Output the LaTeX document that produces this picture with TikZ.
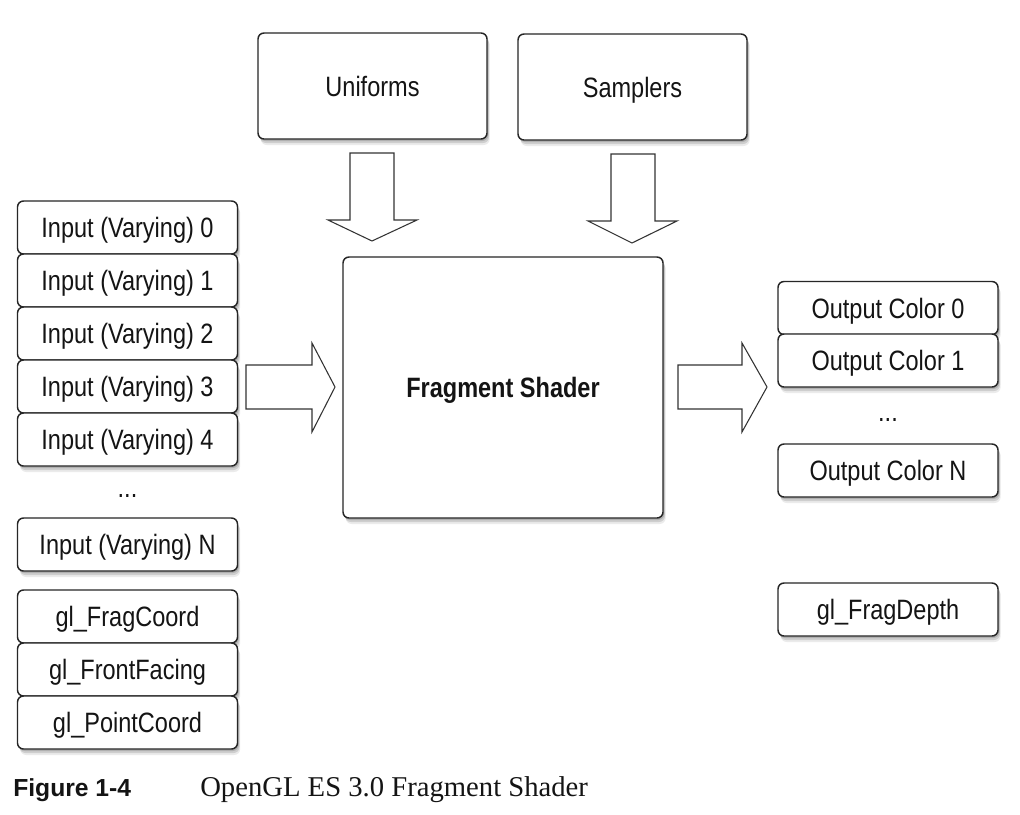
\documentclass[tikz,border=0pt]{standalone}
\usepackage{fontspec}
\setmainfont{Liberation Sans}[FakeStretch=0.84]
\newfontfamily\capserif{Liberation Serif}
\newfontfamily\capsans{Liberation Sans}
\usetikzlibrary{shadows}
\begin{document}
\begin{tikzpicture}[x=0.75pt,y=-0.75pt,
  every node/.style={font=\fontsize{21}{25}\selectfont, text=black!92},
  softshadow/.style={
    general shadow={fill=black,opacity=0.14,shadow xshift=1pt,shadow yshift=-1.5pt},
    general shadow={fill=black,opacity=0.12,shadow xshift=1.5pt,shadow yshift=-3pt},
    general shadow={fill=black,opacity=0.08,shadow xshift=2pt,shadow yshift=-4.5pt}},
  box/.style={softshadow, draw=black!85, line width=1.1pt, fill=white,
    rounded corners=4.5pt, inner sep=0pt, text height=15pt, text depth=0pt},
  slot/.style={box, minimum width=165pt, minimum height=39.75pt},
  big/.style={box, minimum width=171.75pt, minimum height=79.5pt},
  dots/.style={inner sep=0pt, anchor=base},
  blockarrow/.style={draw=black!80, line width=0.8pt, fill=white, line join=miter}]
\fill[white] (0,0) rectangle (1020,814);
\useasboundingbox (0,0) rectangle (1020,814);

% top sources
\node[big] (uni) at (372.5,86) {Uniforms};
\node[big] (samp) at (632.5,87) {Samplers};

% central shader
\node[box, minimum width=240pt, minimum height=195.75pt, font=\fontsize{21}{25}\selectfont\bfseries] (fs) at (503,387.5) {Fragment Shader};

% inputs
\node[slot] (in0) at (127.5,227.5) {Input (Varying) 0};
\node[slot] (in1) at (127.5,280.5) {Input (Varying) 1};
\node[slot] (in2) at (127.5,333.5) {Input (Varying) 2};
\node[slot] (in3) at (127.5,386.5) {Input (Varying) 3};
\node[slot] (in4) at (127.5,439.5) {Input (Varying) 4};
\node[dots] (indots) at (127.5,497) {...};
\node[slot] (inN) at (127.5,544.5) {Input (Varying) N};
\node[slot] (fc) at (127.5,616.5) {gl\_FragCoord};
\node[slot] (ff) at (127.5,669.5) {gl\_FrontFacing};
\node[slot] (pc) at (127.5,722.5) {gl\_PointCoord};

% outputs
\node[slot] (out0) at (888,308) {Output Color 0};
\node[slot] (out1) at (888,360.5) {Output Color 1};
\node[dots] (outdots) at (888,421) {...};
\node[slot] (outN) at (888,470.5) {Output Color N};
\node[slot] (fd) at (888,609.5) {gl\_FragDepth};

% block arrows
\draw[blockarrow] (350,153) -- (394,153) -- (394,220) -- (417,220) -- (372,241)
  -- (328,220) -- (350,220) -- cycle;
\draw[blockarrow] (611,154) -- (655,154) -- (655,221) -- (677,221) -- (632,243)
  -- (588,221) -- (611,221) -- cycle;
\draw[blockarrow] (246,365) -- (312,365) -- (312,343) -- (335,387) -- (312,432)
  -- (312,409) -- (246,409) -- cycle;
\draw[blockarrow] (678,365) -- (742,365) -- (742,343) -- (767,387) -- (742,432)
  -- (742,409) -- (678,409) -- cycle;

% caption
\node[anchor=base west, inner sep=0pt, font=\capsans\fontsize{18.5}{22}\selectfont\bfseries] (figno) at (13,796) {Figure 1-4};
\node[anchor=base west, inner sep=0pt, font=\capserif\fontsize{21.5}{24}\selectfont] (figtitle) at (200,796) {OpenGL ES 3.0 Fragment Shader};
\end{tikzpicture}
\end{document}
